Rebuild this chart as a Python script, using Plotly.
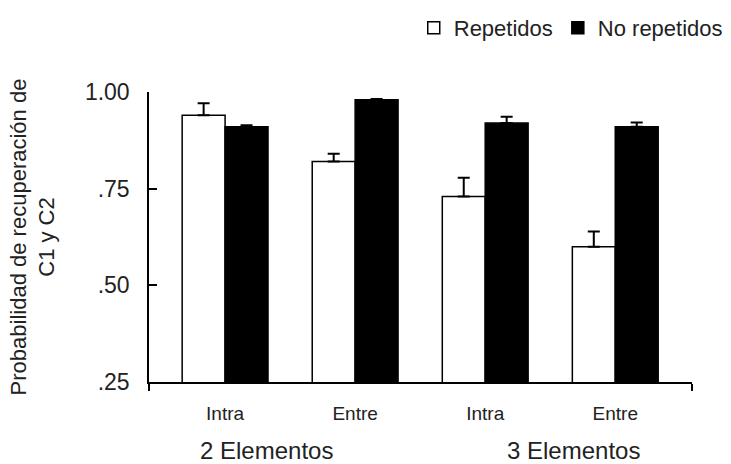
import plotly.graph_objects as go

categories = [0, 1, 2, 3]
cat_labels = ["Intra", "Entre", "Intra", "Entre"]
group_labels = ["2 Elementos", "3 Elementos"]
group_label_pos = [0.32, 2.68]
repetidos = [0.94, 0.82, 0.73, 0.60]
repetidos_err = [0.031, 0.02, 0.048, 0.039]
no_repetidos = [0.91, 0.98, 0.92, 0.91]
no_repetidos_err = [0.004, 0.002, 0.016, 0.011]
y_ticks = [0.25, 0.50, 0.75, 1.00]
y_ticktext = [".25", ".50", ".75", "1.00"]

FONT = "Liberation Sans, Arial, sans-serif"
TXT = "#222222"

fig = go.Figure()
fig.add_trace(go.Bar(
    x=categories, y=repetidos, name="Repetidos",
    marker=dict(color="white", line=dict(color="black", width=1.5)),
    error_y=dict(type="data", array=repetidos_err, arrayminus=[0]*4, symmetric=False,
                 color="black", thickness=2, width=6),
))
fig.add_trace(go.Bar(
    x=categories, y=no_repetidos, name="No repetidos",
    marker=dict(color="black", line=dict(color="black", width=1.5)),
    error_y=dict(type="data", array=no_repetidos_err, arrayminus=[0]*4, symmetric=False,
                 color="black", thickness=2, width=6),
))

for lbl, xp in zip(group_labels, group_label_pos):
    fig.add_annotation(x=xp, xref="x", y=-0.235, yref="paper", text=lbl,
                       showarrow=False, yanchor="middle", xanchor="center",
                       font=dict(family=FONT, size=24, color=TXT))

fig.update_layout(
    width=731, height=464,
    margin=dict(l=149, r=39, t=92, b=82, autoexpand=False),
    paper_bgcolor="white", plot_bgcolor="white",
    barmode="group", bargap=0.34, bargroupgap=0,
    font=dict(family=FONT, size=23, color=TXT),
    showlegend=True,
    legend=dict(orientation="h", xref="container", yref="container",
                x=0.566, xanchor="left", y=0.94, yanchor="middle",
                font=dict(family=FONT, size=22, color=TXT),
                itemwidth=30, bgcolor="rgba(0,0,0,0)"),
    xaxis=dict(range=[-0.585, 3.59], tickmode="array", tickvals=categories,
               ticktext=cat_labels, ticks="", ticklen=0, showline=True,
               linecolor="black", linewidth=1.5, showgrid=False, zeroline=False,
               automargin=False,
               tickfont=dict(family=FONT, size=19, color=TXT), ticklabelstandoff=13,
               minor=dict(tickmode="array", tickvals=[-0.585, 3.59], ticks="outside",
                          ticklen=7, tickwidth=1.5, tickcolor="black")),
    yaxis=dict(range=[0.25, 1.0], tickmode="array", tickvals=y_ticks,
               ticktext=y_ticktext, ticks="inside", ticklen=8, tickwidth=1.5,
               tickcolor="black", showline=True, linecolor="black", linewidth=1.5,
               showgrid=False, zeroline=False, ticklabelstandoff=13,
               automargin=False,
               tickfont=dict(family=FONT, size=23, color=TXT),
               title=dict(text="Probabilidad de recuperación de<br>C1 y C2",
                          font=dict(family=FONT, size=22, color=TXT), standoff=24)),
)

fig.write_html("out.html", config={"displayModeBar": False},
               post_script="document.body.style.margin='0';document.body.style.padding='0';")
